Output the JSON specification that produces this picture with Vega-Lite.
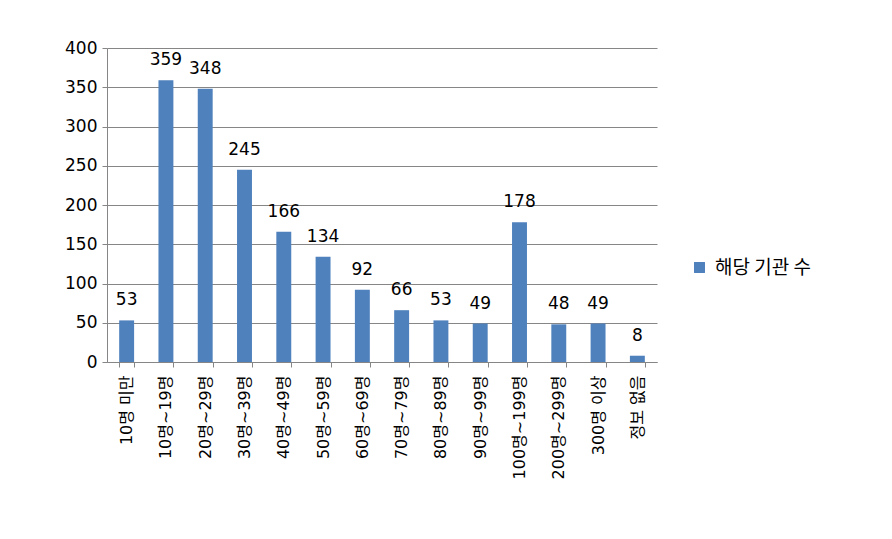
{
  "$schema": "https://vega.github.io/schema/vega-lite/v6.json",
  "autosize": {"type": "none"},
  "padding": {"left": 107, "top": 48, "right": 235, "bottom": 177},
  "width": 550,
  "height": 314,
  "background": "white",
  "config": {
    "view": {"stroke": null},
    "font": "DejaVu Sans, Noto Sans CJK KR",
    "axis": {"labelFont": "DejaVu Sans, Noto Sans CJK KR", "labelColor": "#000000", "tickColor": "#868686", "gridColor": "#868686", "gridOpacity": 1},
    "axisY": {"domain": true, "domainColor": "#868686", "domainWidth": 1},
    "axisX": {"domainColor": "#868686"}
  },
  "data": {
    "values": [
      {"group": "10명 미만", "count": 53, "series": "해당 기관 수"},
      {"group": "10명~19명", "count": 359, "series": "해당 기관 수"},
      {"group": "20명~29명", "count": 348, "series": "해당 기관 수"},
      {"group": "30명~39명", "count": 245, "series": "해당 기관 수"},
      {"group": "40명~49명", "count": 166, "series": "해당 기관 수"},
      {"group": "50명~59명", "count": 134, "series": "해당 기관 수"},
      {"group": "60명~69명", "count": 92, "series": "해당 기관 수"},
      {"group": "70명~79명", "count": 66, "series": "해당 기관 수"},
      {"group": "80명~89명", "count": 53, "series": "해당 기관 수"},
      {"group": "90명~99명", "count": 49, "series": "해당 기관 수"},
      {"group": "100명~199명", "count": 178, "series": "해당 기관 수"},
      {"group": "200명~299명", "count": 48, "series": "해당 기관 수"},
      {"group": "300명 이상", "count": 49, "series": "해당 기관 수"},
      {"group": "정보 없음", "count": 8, "series": "해당 기관 수"}
    ]
  },
  "encoding": {
    "x": {
      "field": "group", "type": "nominal", "sort": null,
      "scale": {"paddingInner": 0.62, "paddingOuter": 0.31},
      "axis": {"title": null, "labelAngle": -90, "labelFontSize": 16, "tickBand": "extent", "tickSize": 5, "labelPadding": 8, "domainWidth": 1}
    },
    "y": {
      "field": "count", "type": "quantitative",
      "scale": {"domain": [0, 400]},
      "axis": {"title": null, "values": [0, 50, 100, 150, 200, 250, 300, 350, 400], "labelFontSize": 17, "tickSize": 5, "labelPadding": 5, "grid": true}
    }
  },
  "layer": [
    {
      "mark": {"type": "bar", "color": "#4f81bd"},
      "encoding": {
        "color": {
          "field": "series", "type": "nominal",
          "scale": {"range": ["#4f81bd"]},
          "legend": {"title": null, "orient": "none", "legendX": 583, "legendY": 210, "symbolType": "square", "symbolSize": 120, "labelFontSize": 19, "labelFont": "Noto Sans CJK KR", "symbolStrokeWidth": 0, "labelOffset": 6}
        }
      }
    },
    {
      "mark": {"type": "text", "baseline": "alphabetic", "dy": -15, "fontSize": 17, "color": "#000000"},
      "encoding": {"text": {"field": "count", "type": "quantitative"}}
    }
  ]
}
